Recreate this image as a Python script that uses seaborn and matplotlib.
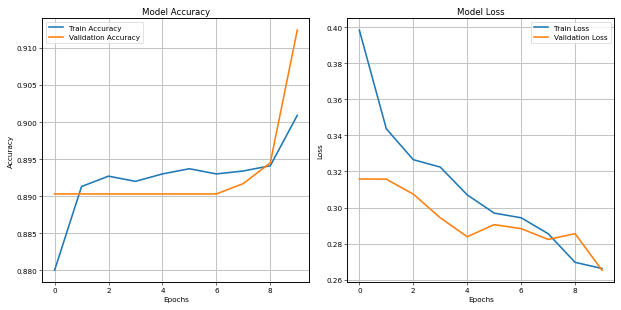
import matplotlib
matplotlib.use("Agg")

import pandas as pd
import matplotlib.pyplot as plt
import seaborn as sns

epochs = list(range(10))
train_acc = [0.8800, 0.8913, 0.8927, 0.8920, 0.8930, 0.8937, 0.8930, 0.8934, 0.8941, 0.9009]
val_acc = [0.8903, 0.8903, 0.8903, 0.8903, 0.8903, 0.8903, 0.8903, 0.8917, 0.8945, 0.9124]
train_loss = [0.3983, 0.3436, 0.3265, 0.3224, 0.3070, 0.2969, 0.2943, 0.2855, 0.2696, 0.2662]
val_loss = [0.3158, 0.3157, 0.3074, 0.2943, 0.2838, 0.2905, 0.2883, 0.2823, 0.2855, 0.2652]


def plot_pair(ax, train, val, names, title, ylabel, loc):
    df = pd.DataFrame({"epoch": epochs, names[0]: train, names[1]: val})
    long = df.melt(id_vars="epoch", var_name="series", value_name="value")
    sns.lineplot(data=long, x="epoch", y="value", hue="series",
                 palette=["tab:blue", "tab:orange"], linewidth=2.2, ax=ax)
    ax.set_title(title)
    ax.set_xlabel("Epochs")
    ax.set_ylabel(ylabel)
    ax.grid(True, linewidth=1.4, color="#c4c4c4")
    for s in ax.spines.values():
        s.set_linewidth(1.3)
    ax.legend(title=None, loc=loc)


fig, axes = plt.subplots(1, 2, figsize=(12, 6), dpi=51.83)

plot_pair(axes[0], train_acc, val_acc, ["Train Accuracy", "Validation Accuracy"],
          "Model Accuracy", "Accuracy", "upper left")
plot_pair(axes[1], train_loss, val_loss, ["Train Loss", "Validation Loss"],
          "Model Loss", "Loss", "upper right")

plt.tight_layout()
plt.savefig("out.png")
plt.close()
